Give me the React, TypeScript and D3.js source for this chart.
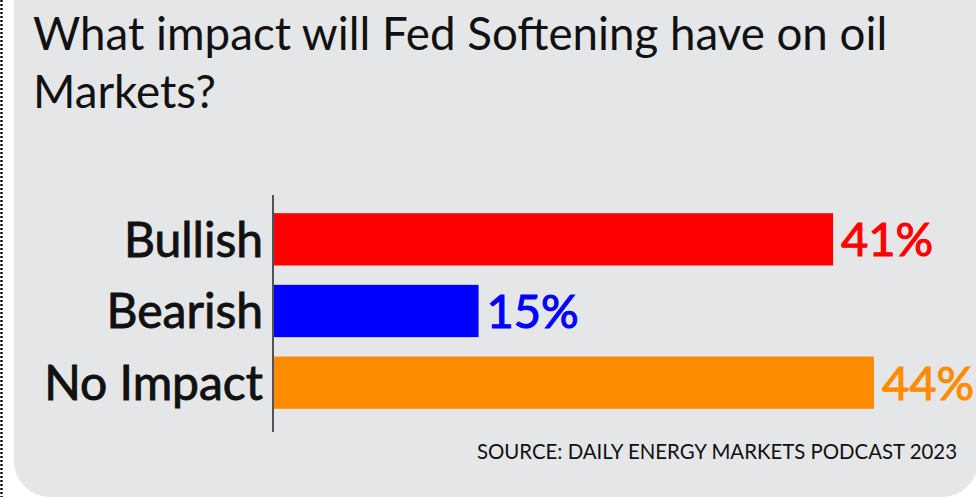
import React from "react";
import * as d3 from "d3";

const categories = ["Bullish", "Bearish", "No Impact"];
const values = [41, 15, 44];
const colors = ["#ff0000", "#0000ff", "#ff8c00"];
const titleLines = ["What impact will Fed Softening have on oil", "Markets?"];
const sourceText = "SOURCE: DAILY ENERGY MARKETS PODCAST 2023";

const W = 976;
const H = 497;
const FONT = "Lato, 'Open Sans', sans-serif";

export default function App() {
  const x = d3.scaleLinear().domain([0, 44]).range([274, 874]);
  const y = d3.scaleBand<string>().domain(categories).range([201, 421]).paddingInner(0.27).paddingOuter(0.17);

  const px = 14, r = 36;
  const panel = d3.path();
  panel.moveTo(px, 0);
  panel.lineTo(W + 2, 0);
  panel.lineTo(W + 2, H - r);
  panel.arcTo(W + 2, H, W + 2 - r, H, r);
  panel.lineTo(px + r, H);
  panel.arcTo(px, H, px, H - r, r);
  panel.closePath();

  return (
    <svg width={W} height={H} style={{ position: "absolute", left: 0, top: 0, display: "block" }} fontFamily={FONT}>
      <rect width={W} height={H} fill="#ffffff" />
      <line x1={1.5} x2={1.5} y1={0} y2={H} stroke="#111" strokeWidth={2.5} strokeDasharray="2 2" />
      <path d={panel.toString()} fill="#e5e6e8" />
      {titleLines.map((t, i) => (
        <text key={i} x={33} y={50 + i * 58} fontSize={45.7} fontWeight={400} fill="#111">{t}</text>
      ))}
      {categories.map((c, i) => (
        <g key={c}>
          <rect x={x(0)} y={y(c)} width={x(values[i]) - x(0)} height={y.bandwidth()} fill={colors[i]} />
          <text x={263} y={(y(c) as number) + y.bandwidth() / 2} dy="0.36em" textAnchor="end" fontSize={48} fontWeight={400} fill="#111" stroke="#111" strokeWidth={0.9}>{c}</text>
          <text x={x(values[i]) + 8} y={(y(c) as number) + y.bandwidth() / 2} dy="0.36em" fontSize={47} fontWeight={400} fill={colors[i]} stroke={colors[i]} strokeWidth={1.1}>{values[i]}%</text>
        </g>
      ))}
      <line x1={273} x2={273} y1={195} y2={432} stroke="#222" strokeWidth={1.5} />
      <text x={957} y={459} textAnchor="end" fontSize={20.4} fill="#111">{sourceText}</text>
    </svg>
  );
}
